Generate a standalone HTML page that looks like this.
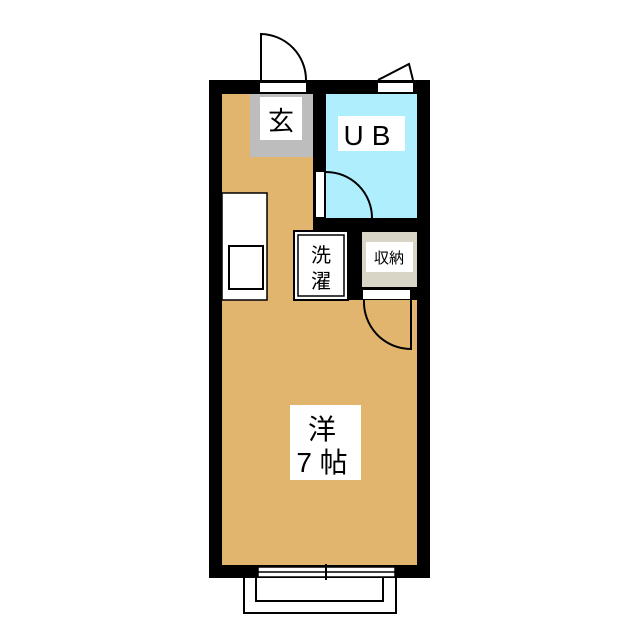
<!DOCTYPE html>
<html><head><meta charset="utf-8"><style>
html,body{margin:0;padding:0;background:#fff;width:640px;height:640px;overflow:hidden}
</style></head><body>
<svg width="640" height="640" xmlns="http://www.w3.org/2000/svg" style="font-family:'Liberation Sans','Noto Sans CJK JP',sans-serif">
<rect x="209" y="80" width="221" height="498" fill="#000"/>
<rect x="222" y="94" width="195" height="471" fill="#e2b56e"/>
<!-- genkan -->
<rect x="250" y="94" width="63" height="63" fill="#bdbdbd"/>
<rect x="260" y="97" width="42" height="43" fill="#fff"/>
<text x="281" y="130" font-size="26" text-anchor="middle">玄</text>
<!-- UB -->
<rect x="313" y="94" width="13" height="138" fill="#000"/>
<rect x="313" y="218" width="117" height="14" fill="#000"/>
<rect x="326" y="94" width="91" height="124" fill="#aeeefd"/>
<rect x="338" y="116" width="67" height="35" fill="#fff"/>
<text x="371" y="145" font-size="28" text-anchor="middle" letter-spacing="8">UB</text>
<rect x="316" y="172" width="8" height="45" fill="#fff"/>
<path d="M326 172 A46 46 0 0 1 372 218" fill="none" stroke="#000" stroke-width="2"/>
<!-- entrance door -->
<rect x="260" y="83" width="46" height="9" fill="#fff"/>
<path d="M261 80 V34 A46 46 0 0 1 306 80" fill="none" stroke="#000" stroke-width="2"/>
<rect x="378" y="83" width="35" height="9" fill="#fff"/>
<path d="M378 80 L409 64 L413 80" fill="#fff" stroke="#000" stroke-width="2"/>
<!-- kitchen -->
<rect x="222" y="193" width="45" height="107" fill="#fff" stroke="#000" stroke-width="1.5"/>
<rect x="229" y="246" width="34" height="43" fill="#fff" stroke="#000" stroke-width="2"/>
<!-- washer -->
<rect x="294" y="231" width="54" height="69" fill="#fff" stroke="#000" stroke-width="2"/>
<rect x="298" y="235" width="46" height="61" fill="#fff" stroke="#000" stroke-width="1.5"/>
<text x="321" y="262" font-size="20" text-anchor="middle">洗</text>
<text x="321" y="288" font-size="20" text-anchor="middle">濯</text>
<!-- storage -->
<rect x="348" y="232" width="82" height="68" fill="#000"/>
<rect x="362" y="232" width="55" height="55" fill="#d8d4c6"/>
<rect x="366" y="242" width="47" height="30" fill="#fff"/>
<text x="389" y="263" font-size="15" text-anchor="middle">収納</text>
<rect x="363" y="290" width="47" height="9" fill="#fff"/>
<path d="M364 300 A47 47 0 0 0 411 349 V300" fill="none" stroke="#000" stroke-width="2"/>
<!-- room label -->
<rect x="290" y="405" width="71" height="75" fill="#fff"/>
<text x="322" y="439" font-size="28" text-anchor="middle">洋</text>
<text x="322" y="472" font-size="28" text-anchor="middle">7 帖</text>
<!-- window -->
<rect x="258" y="567" width="137" height="10" fill="#fff" stroke="#000" stroke-width="1.5"/>
<line x1="258" y1="572" x2="395" y2="572" stroke="#000" stroke-width="1.5"/>
<line x1="326" y1="564" x2="326" y2="580" stroke="#000" stroke-width="2"/>
<path d="M244 578 V613 H396 V578" fill="none" stroke="#000" stroke-width="2"/>
<path d="M256 578 V601 H383 V578" fill="none" stroke="#000" stroke-width="2"/>
</svg>
</body></html>
